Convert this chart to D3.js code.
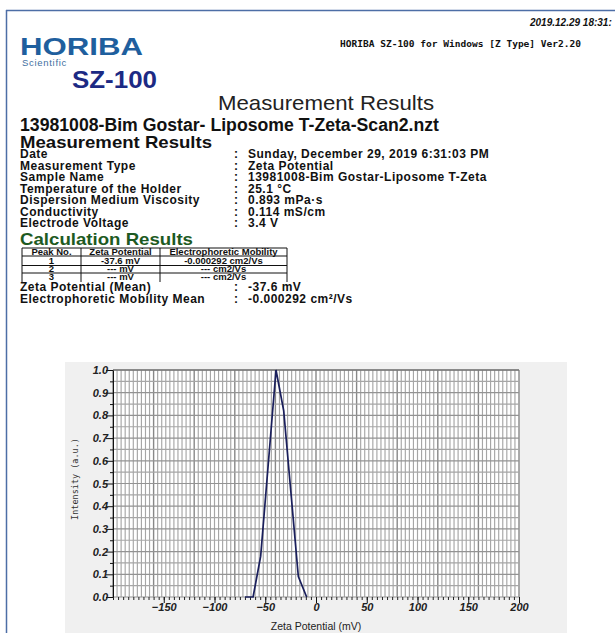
<!DOCTYPE html>
<html>
<head>
<meta charset="utf-8">
<script src="https://cdn.jsdelivr.net/npm/d3@7/dist/d3.min.js"></script>
<style>
  body { margin: 0; background: #fff; }
  svg text { font-family: "Liberation Sans", Arial, sans-serif; }
</style>
</head>
<body>
<div id="chart"></div>
<script>
// measured curve (zeta potential in mV vs normalised intensity)
const zeta = [-70, -62, -54.5, -39.4, -31.8, -17.4, -9.2];
const intensity = [0, 0, 0.18, 1.0, 0.82, 0.09, 0];

const xTickLabels = [-150, -100, -50, 0, 50, 100, 150, 200];
const yTickLabels = [0.0, 0.1, 0.2, 0.3, 0.4, 0.5, 0.6, 0.7, 0.8, 0.9, 1.0];

const infoLabels = ["Date", "Measurement Type", "Sample Name", "Temperature of the Holder",
  "Dispersion Medium Viscosity", "Conductivity", "Electrode Voltage"];
const infoValues = ["Sunday, December 29, 2019 6:31:03 PM", "Zeta Potential",
  "13981008-Bim Gostar-Liposome T-Zeta", "25.1 \u00B0C", "0.893 mPa\u00B7s", "0.114 mS/cm", "3.4 V"];

const tableHead = ["Peak No.", "Zeta Potential", "Electrophoretic Mobility"];
const tableRows = [
  ["1", "-37.6 mV", "-0.000292 cm2/Vs"],
  ["2", "--- mV", "--- cm2/Vs"],
  ["3", "--- mV", "--- cm2/Vs"]
];

const W = 615, H = 633;
const svg = d3.select("#chart").append("svg").attr("width", W).attr("height", H);

// page frame
svg.append("line").attr("x1", 6).attr("x2", W).attr("y1", 10.5).attr("y2", 10.5)
  .attr("stroke", "#4d6ea6").attr("stroke-width", 1.5);
svg.append("line").attr("x1", 6.5).attr("x2", 6.5).attr("y1", 10).attr("y2", H)
  .attr("stroke", "#4d6ea6").attr("stroke-width", 1.5);

// header
svg.append("text").attr("x", 530).attr("y", 26).text("2019.12.29 18:31:")
  .style("font-size", "10px").style("font-weight", "bold").style("font-style", "italic").attr("fill", "#111");
svg.append("text").attr("x", 340).attr("y", 47).text("HORIBA SZ-100 for Windows [Z Type] Ver2.20")
  .style("font-family", "'DejaVu Sans Mono', monospace").style("font-size", "9.5px").style("font-weight", "bold")
  .attr("textLength", 241).attr("lengthAdjust", "spacingAndGlyphs").attr("fill", "#111");

svg.append("text").attr("x", 20).attr("y", 55).text("HORIBA")
  .style("font-size", "24px").style("font-weight", "900").attr("fill", "#1f5f9e")
  .attr("textLength", 123).attr("lengthAdjust", "spacingAndGlyphs");
svg.append("text").attr("x", 22).attr("y", 66).text("Scientific")
  .style("font-size", "9.5px").attr("fill", "#3f6f9f").attr("letter-spacing", "0.7px");
svg.append("text").attr("x", 72).attr("y", 88).text("SZ-100")
  .style("font-size", "24px").style("font-weight", "bold").attr("fill", "#1c2a84")
  .attr("textLength", 85).attr("lengthAdjust", "spacingAndGlyphs");

svg.append("text").attr("x", 326).attr("y", 110).attr("text-anchor", "middle").text("Measurement Results")
  .style("font-size", "21px").attr("fill", "#222").attr("textLength", 216).attr("lengthAdjust", "spacingAndGlyphs");

svg.append("text").attr("x", 20).attr("y", 131).text("13981008-Bim Gostar- Liposome T-Zeta-Scan2.nzt")
  .style("font-size", "18px").style("font-weight", "bold").attr("fill", "#111")
  .attr("textLength", 419).attr("lengthAdjust", "spacingAndGlyphs");
svg.append("text").attr("x", 20).attr("y", 148).text("Measurement Results")
  .style("font-size", "17px").style("font-weight", "bold").attr("fill", "#111")
  .attr("textLength", 192).attr("lengthAdjust", "spacingAndGlyphs");

const info = svg.append("g").style("font-size", "12px").style("font-weight", "bold").attr("fill", "#111")
  .attr("letter-spacing", "0.5px");
infoLabels.forEach((lab, i) => {
  const y = 158 + i * 11.5;
  info.append("text").attr("x", 20).attr("y", y).text(lab);
  info.append("text").attr("x", 234).attr("y", y).text(":");
  info.append("text").attr("x", 248).attr("y", y).text(infoValues[i]);
});

svg.append("text").attr("x", 20).attr("y", 245).text("Calculation Results")
  .style("font-size", "17px").style("font-weight", "bold").attr("fill", "#1d5a22")
  .attr("textLength", 173).attr("lengthAdjust", "spacingAndGlyphs");

// results table
const colX = [22, 81, 160, 287];
const rowY = [248, 256, 265.5, 273];
const tbl = svg.append("g").attr("stroke", "#111").attr("stroke-width", 1);
rowY.forEach(y => tbl.append("line").attr("x1", colX[0]).attr("x2", colX[3]).attr("y1", y).attr("y2", y));
colX.forEach(x => tbl.append("line").attr("x1", x).attr("x2", x).attr("y1", rowY[0]).attr("y2", 282));
const tt = svg.append("g").style("font-size", "9.5px").style("font-weight", "bold").attr("fill", "#111")
  .attr("text-anchor", "middle");
tableHead.forEach((h, j) => tt.append("text").attr("x", (colX[j] + colX[j + 1]) / 2).attr("y", 255).text(h));
tableRows.forEach((r, i) => r.forEach((c, j) =>
  tt.append("text").attr("x", (colX[j] + colX[j + 1]) / 2).attr("y", 263.5 + i * 8).text(c)));

const mean = svg.append("g").style("font-size", "12px").style("font-weight", "bold").attr("fill", "#111")
  .attr("letter-spacing", "0.5px");
mean.append("text").attr("x", 20).attr("y", 291).text("Zeta Potential (Mean)");
mean.append("text").attr("x", 234).attr("y", 291).text(":");
mean.append("text").attr("x", 248).attr("y", 291).text("-37.6 mV");
mean.append("text").attr("x", 20).attr("y", 303).text("Electrophoretic Mobility Mean");
mean.append("text").attr("x", 234).attr("y", 303).text(":");
mean.append("text").attr("x", 248).attr("y", 303).text("-0.000292 cm\u00B2/Vs");

// chart panel
svg.append("rect").attr("x", 65).attr("y", 362).attr("width", 502).attr("height", H - 362).attr("fill", "#f0f0f0");

const m = { left: 113, right: 519, top: 370, bottom: 597 };
const x = d3.scaleLinear().domain([-200, 200]).range([m.left, m.right]);
const y = d3.scaleLinear().domain([0, 1]).range([m.bottom, m.top]);

svg.append("rect").attr("x", m.left).attr("y", m.top).attr("width", m.right - m.left)
  .attr("height", m.bottom - m.top).attr("fill", "#fff");

// grid
const grid = svg.append("g");
d3.range(-200, 201, 4).forEach((v, i) => {
  grid.append("line").attr("x1", x(v)).attr("x2", x(v)).attr("y1", m.top).attr("y2", m.bottom)
    .attr("stroke", i % 10 === 0 ? "#888" : "#a6a6a6").attr("stroke-width", i % 10 === 0 ? 1.4 : 1.15);
});
d3.range(0, 21).forEach(i => {
  const v = i * 0.05;
  grid.append("line").attr("x1", m.left).attr("x2", m.right).attr("y1", y(v)).attr("y2", y(v))
    .attr("stroke", i % 2 === 0 ? "#939393" : "#a6a6a6").attr("stroke-width", 1.2);
});
svg.append("line").attr("x1", m.left).attr("x2", m.right).attr("y1", m.top).attr("y2", m.top)
  .attr("stroke", "#777").attr("stroke-width", 1.5);

// y axis
const yAxis = d3.axisLeft(y).tickValues(yTickLabels).tickFormat(d3.format(".1f")).tickSize(7).tickSizeOuter(0);
const yg = svg.append("g").attr("transform", `translate(${m.left},0)`).call(yAxis);
yg.select(".domain").attr("stroke", "#111");
yg.selectAll(".tick line").attr("stroke", "#111");
yg.selectAll(".tick text").style("font-size", "11px").style("font-weight", "bold").style("font-style", "italic")
  .attr("fill", "#222").attr("x", -5);
const yMinor = d3.axisLeft(y).tickValues(d3.range(0.05, 1, 0.1)).tickSize(3).tickFormat("");
const ym = svg.append("g").attr("transform", `translate(${m.left},0)`).call(yMinor);
ym.select(".domain").remove();
ym.selectAll(".tick line").attr("stroke", "#111");

// x axis
const xMinor = d3.axisBottom(x).tickValues(d3.range(-200, 201, 5)).tickSize(3).tickFormat("");
const xm = svg.append("g").attr("transform", `translate(0,${m.bottom})`).call(xMinor);
xm.select(".domain").remove();
xm.selectAll(".tick line").attr("stroke", "#222");
const xAxis = d3.axisBottom(x).tickValues(xTickLabels).tickSize(6).tickFormat(d3.format("d"));
const xg = svg.append("g").attr("transform", `translate(0,${m.bottom})`).call(xAxis);
xg.select(".domain").remove();
xg.selectAll(".tick line").attr("stroke", "#111");
xg.selectAll(".tick text").style("font-size", "11px").style("font-weight", "bold").style("font-style", "italic")
  .attr("fill", "#222").attr("y", 6);

svg.append("text").attr("x", 316).attr("y", 630).attr("text-anchor", "middle").text("Zeta Potential (mV)")
  .style("font-size", "10.5px").attr("fill", "#222");
svg.append("text").attr("transform", "translate(78,479) rotate(-90)").attr("text-anchor", "middle")
  .text("Intensity (a.u.)").style("font-family", "'DejaVu Sans Mono', monospace").style("font-size", "8.5px")
  .attr("fill", "#333");

// curve
const line = d3.line().x((d, i) => x(zeta[i])).y(d => y(d));
svg.append("path").datum(intensity).attr("d", line).attr("fill", "none")
  .attr("stroke", "#1a1f5c").attr("stroke-width", 1.7);
</script>
</body>
</html>
